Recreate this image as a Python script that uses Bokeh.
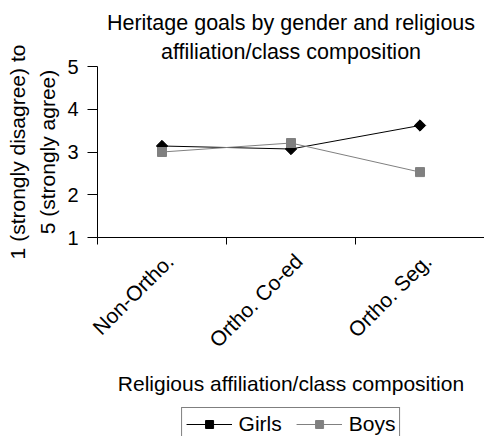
from math import pi

from bokeh.embed import file_html
from bokeh.layouts import column
from bokeh.models import FixedTicker, Legend, LegendItem, Range1d, Title
from bokeh.plotting import figure
from bokeh.resources import INLINE

# Mean heritage-goal ratings (1 = strongly disagree, 5 = strongly agree)
categories = ["Non-Ortho.", "Ortho. Co-ed", "Ortho. Seg."]
girls = [3.14, 3.07, 3.62]
boys = [3.00, 3.21, 2.53]
y_ticks = [1, 2, 3, 4, 5]

title_lines = ["Heritage goals by gender and religious", "affiliation/class composition"]
y_label = "1 (strongly disagree) to\n5 (strongly agree)"
x_label = "Religious affiliation/class composition"

FONT = "Liberation Sans"
SIZE = "21px"

GIRLS_STYLE = dict(color="black", marker="square", size=8, angle=pi / 4)
BOYS_STYLE = dict(color="#808080", marker="square", size=9, angle=0)

# categories sit in the middle of unit-wide slots, ticks on the slot boundaries
x_pos = [i + 0.5 for i in range(len(categories))]
boundaries = list(range(len(categories) + 1))
# slanted names hang a little to the right of their slot centre
label_pos = [x + 0.06 for x in x_pos]


def draw_series(fig, xs):
    """Draw both series (line + markers) on fig; returns the renderers."""
    out = []
    for vals, st in ((girls, GIRLS_STYLE), (boys, BOYS_STYLE)):
        ln = fig.line(xs, vals, line_color=st["color"], line_width=1)
        sc = fig.scatter(xs, vals, marker=st["marker"], size=st["size"],
                         angle=st["angle"], fill_color=st["color"],
                         line_color=st["color"])
        out.append([ln, sc])
    return out


# ---- main chart -------------------------------------------------------------
p = figure(
    width=484, height=407,
    output_backend="svg", toolbar_location=None,
    x_range=Range1d(0, len(categories)), y_range=Range1d(1, 5),
    min_border_left=97, min_border_right=0,
    min_border_top=66, min_border_bottom=170,
)
p.outline_line_color = None
p.xgrid.visible = False
p.ygrid.visible = False
p.background_fill_color = "white"
p.border_fill_color = "white"

# x axis: category names at slot centres, tick marks between slots
xa = p.xaxis[0]
xa.ticker = FixedTicker(ticks=label_pos, minor_ticks=boundaries)
xa.major_label_overrides = {x: c for x, c in zip(label_pos, categories)}
xa.major_tick_out = 0
xa.major_tick_in = 0
xa.minor_tick_out = 7
xa.minor_tick_in = 0
xa.minor_tick_line_color = "black"
xa.axis_line_color = "black"
xa.major_label_orientation = pi / 4
xa.major_label_standoff = 13
xa.major_label_text_font = FONT
xa.major_label_text_font_size = SIZE
xa.major_label_text_color = "black"
xa.axis_label = x_label
xa.axis_label_standoff = 9
xa.axis_label_text_font = FONT
xa.axis_label_text_font_size = SIZE
xa.axis_label_text_font_style = "normal"
xa.axis_label_text_color = "black"

ya = p.yaxis[0]
ya.ticker = FixedTicker(ticks=y_ticks, minor_ticks=[])
ya.major_tick_out = 10
ya.major_tick_in = 0
ya.major_tick_line_color = "black"
ya.axis_line_color = "black"
ya.major_label_standoff = 9
ya.major_label_text_font = FONT
ya.major_label_text_font_size = "20px"
ya.major_label_text_color = "black"
ya.axis_label = y_label
ya.axis_label_standoff = 5
ya.axis_label_text_font = FONT
ya.axis_label_text_font_size = SIZE
ya.axis_label_text_font_style = "normal"
ya.axis_label_text_color = "black"
ya.axis_label_text_line_height = 1.33

draw_series(p, x_pos)

# two-line title, inner line added first so it sits next to the plot
for text, standoff in zip(reversed(title_lines), [5, 2]):
    p.add_layout(Title(text=text, align="center", standoff=standoff,
                       text_font=FONT, text_font_size="21.5px",
                       text_font_style="normal", text_color="black"), "above")

# ---- legend strip under the chart ---------------------------------------------
key = figure(
    width=484, height=29,
    output_backend="svg", toolbar_location=None,
    x_axis_location=None, y_axis_location=None,
    x_range=Range1d(-20, -19), y_range=Range1d(0, 1),
    min_border_left=97, min_border_right=0,
    min_border_top=0, min_border_bottom=0,
)
key.outline_line_color = None
key.grid.visible = False
key.background_fill_color = "white"
key.border_fill_color = "white"

# same series drawn off-range so only their legend samples show
(g_rs, b_rs) = draw_series(key, x_pos)

legend = Legend(
    items=[LegendItem(label="Girls", renderers=g_rs),
           LegendItem(label="Boys", renderers=b_rs)],
    orientation="horizontal",
    location="top_center",
    glyph_width=46, glyph_height=20,
    label_standoff=7, spacing=14, padding=4, margin=0,
    border_line_color="black", border_line_width=1,
    background_fill_color="white", background_fill_alpha=1,
    label_text_font=FONT, label_text_font_size=SIZE, label_text_color="black",
)
key.add_layout(legend)

open("out.html", "w").write(file_html(column(p, key, spacing=0), INLINE))
